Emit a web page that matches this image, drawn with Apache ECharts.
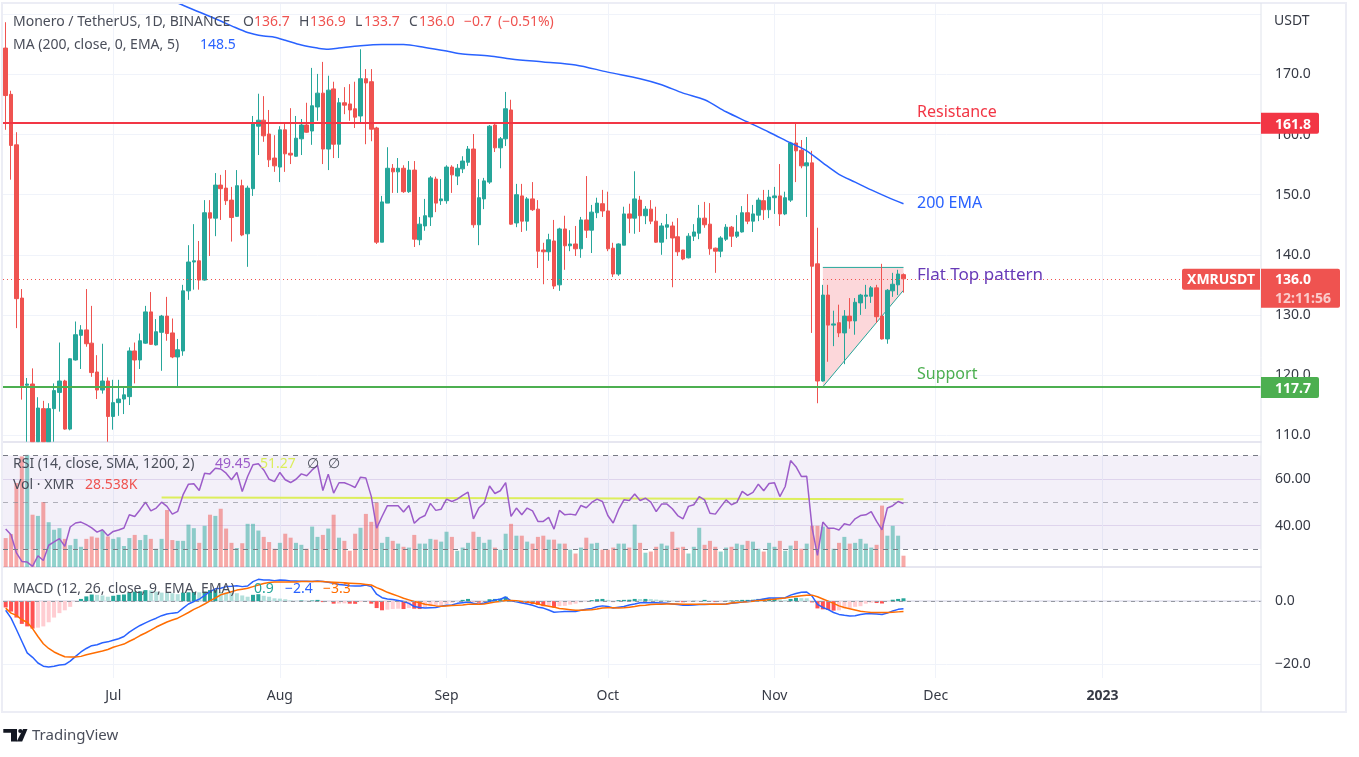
<!DOCTYPE html>
<html><head><meta charset="utf-8">
<script src="https://cdn.jsdelivr.net/npm/echarts@6/dist/echarts.min.js"></script>
<style>html,body{margin:0;padding:0;background:#fff}#c{width:1359px;height:757px}</style>
</head><body><div id="c"></div>
<script>
const opens=[174.4,166.7,158.3,132.8,118.3,118.5,108.9,114.4,108.9,114.4,
117.1,119.0,111.0,122.5,126.6,127.5,125.3,120.5,117.5,119.0,
113.1,115.4,116.0,116.4,124.0,122.5,125.3,130.5,125.0,127.1,
129.8,127.0,123.0,124.0,134.0,138.8,139.0,135.8,147.0,146.1,
151.6,151.1,149.1,146.4,151.5,143.5,151.0,161.4,162.4,160.1,
156.1,154.6,160.8,156.9,156.4,159.3,161.6,160.6,164.6,166.9,
157.6,167.6,158.4,165.3,165.1,164.3,163.1,169.3,168.8,161.1,
142.1,148.6,154.4,153.8,154.4,150.5,154.1,142.5,144.8,146.3,
152.6,149.0,149.0,154.6,153.1,154.3,155.4,157.6,145.0,149.3,
152.1,161.6,157.8,159.3,164.1,145.3,149.8,145.6,149.3,147.6,
140.8,140.5,142.3,135.0,144.3,141.5,141.8,141.0,145.8,144.1,
147.0,148.5,147.3,141.1,136.8,141.6,146.8,146.1,149.1,146.5,
147.6,145.6,142.1,144.6,144.8,143.0,140.8,139.5,143.1,143.6,
146.1,145.1,141.1,140.6,142.6,144.6,143.1,143.8,147.0,145.6,
146.6,149.0,147.5,149.5,149.8,146.8,149.1,158.6,157.4,154.8,
155.3,138.5,119.0,133.3,128.3,128.7,127.0,129.8,129.0,132.0,
133.1,133.1,134.5,129.8,126.0,134.0,135.0,136.7];
const closes=[166.5,158.2,132.7,118.2,118.5,108.9,114.5,108.9,114.4,117.4,
119.0,111.0,122.7,126.7,127.5,125.2,120.4,117.5,119.0,113.1,
115.4,116.0,116.7,124.0,122.5,125.7,130.5,125.1,127.2,129.8,
126.9,123.0,124.2,134.0,138.8,139.0,135.8,147.0,146.1,151.6,
151.0,149.0,146.2,151.5,143.3,151.1,161.8,162.4,159.8,155.8,
154.8,160.8,156.8,156.6,159.4,161.6,160.4,164.8,166.9,157.6,
167.4,158.4,165.3,164.9,164.1,162.9,169.3,168.6,160.9,142.1,
148.8,154.4,153.8,154.4,150.5,154.1,142.6,145.1,146.5,152.8,
148.6,149.3,154.6,153.3,154.4,155.6,157.6,145.0,149.5,152.3,
161.4,157.8,159.3,164.3,145.1,150.0,145.6,149.3,147.5,140.6,
140.5,142.5,134.8,144.3,141.5,141.8,141.0,145.8,144.1,147.1,
148.6,147.3,141.0,136.8,141.8,146.8,146.1,149.3,146.5,147.6,
145.6,142.1,144.8,145.0,142.8,140.5,139.3,143.1,143.8,146.1,
145.0,141.0,140.6,142.8,144.6,143.1,143.8,147.0,145.6,146.8,
149.1,147.5,149.6,149.8,146.8,149.5,158.6,157.3,154.8,155.3,
138.1,119.0,133.3,128.3,128.5,127.0,129.8,129.0,132.1,133.3,
133.3,134.5,129.7,126.0,134.1,135.1,136.8,136.0];
const highs=[178.7,167.3,160.4,134.3,119.5,121.1,116.3,115.7,115.3,118.6,
125.4,119.2,122.8,128.9,128.3,134.3,131.5,123.3,125.2,119.6,
119.2,119.2,118.1,124.6,125.4,126.9,131.5,133.8,129.3,130.0,
133.0,129.4,126.0,135.0,141.6,145.1,142.3,149.1,149.1,153.6,
153.3,154.1,151.3,154.1,152.5,151.5,163.1,166.8,166.4,164.1,
159.9,161.4,161.8,164.4,163.1,162.6,165.3,171.1,170.1,172.1,
169.8,168.8,166.1,167.9,168.4,168.8,174.2,170.9,170.9,161.3,
149.8,157.9,155.1,156.1,154.9,155.6,155.6,146.3,149.3,153.1,
153.0,152.6,154.9,154.9,155.1,156.4,158.1,160.1,152.6,152.8,
161.6,161.8,159.6,167.1,165.8,151.8,151.8,149.6,152.1,149.1,
142.0,143.5,145.8,144.5,146.5,144.1,144.8,146.3,153.1,148.3,
149.5,150.8,150.5,142.0,141.9,148.0,148.5,153.9,149.8,148.1,
149.1,148.0,145.3,146.8,145.5,146.1,140.8,143.6,145.1,148.3,
148.8,148.6,141.2,143.1,145.1,144.8,146.6,148.1,150.1,148.3,
149.5,150.8,150.8,151.3,155.1,150.5,158.8,161.9,159.1,159.6,
157.3,144.5,135.0,135.0,130.7,131.7,130.8,132.8,132.8,133.5,
135.0,134.8,135.0,138.5,134.3,137.0,137.5,136.9];
const lows=[160.8,152.5,127.8,115.9,108.9,108.9,108.9,108.9,108.9,108.9,
113.9,110.9,110.8,122.4,121.0,124.7,119.7,116.0,116.9,108.9,
110.9,113.2,113.5,115.0,118.6,121.0,125.2,125.0,124.9,120.7,
125.7,122.8,117.9,123.2,132.5,134.2,134.2,135.7,139.8,143.1,
145.8,148.3,142.2,146.3,143.1,138.0,149.8,156.6,158.8,154.6,
153.8,152.1,153.8,155.1,156.3,156.6,160.3,158.3,162.3,155.1,
154.1,156.1,156.1,163.4,162.3,161.1,161.9,158.4,158.9,141.8,
142.1,148.6,150.3,150.3,150.3,150.3,141.3,141.6,144.0,144.8,
147.1,148.3,148.5,150.3,151.6,153.6,154.8,144.5,141.6,147.6,
151.8,157.1,154.4,158.1,145.0,144.6,143.8,144.0,147.3,137.8,
135.1,139.0,134.3,134.0,137.5,140.6,139.8,139.5,142.8,140.3,
146.1,146.3,140.6,136.3,136.5,141.6,143.6,143.5,143.8,145.1,
145.1,142.0,140.0,142.6,134.6,139.8,139.1,139.4,142.3,142.6,
144.5,140.0,137.0,139.6,142.3,141.3,142.8,143.7,145.1,143.8,
145.6,145.8,146.1,146.8,144.8,146.6,148.8,152.1,154.4,146.3,
127.0,115.3,118.9,122.2,124.8,126.3,121.8,127.7,126.7,130.0,
131.0,132.0,128.7,125.9,125.2,133.0,133.3,133.7];
const emaBars=[31,32,36,40,42,45,48,50,52,55,58,60,62,66,70,74,78,82,85,90,94,100,106,112,118,122,126,130,134,138,142,146,149,152,155,158,161,164,167];
const emaValues=[182.4,181.9,180.4,178.9,178.1,177.0,176.4,176.2,175.7,174.9,174.4,174.2,174.4,174.8,175.0,175.0,174.5,173.9,173.4,173.1,172.6,172.1,171.6,170.4,169.3,168.3,166.9,165.8,163.8,162.1,160.4,158.6,157.3,155.3,153.4,152.1,150.8,149.6,148.5];
const rsi=[38.5,36.1,28.3,24.7,24.4,22.6,27.1,25.1,31.6,33.0,
34.4,31.1,39.4,41.1,41.5,40.4,39.0,37.2,38.2,35.7,
37.5,38.1,39.0,44.6,43.9,46.8,50.0,46.3,47.5,50.0,
48.2,44.9,46.1,53.2,57.7,57.9,55.0,62.4,62.1,64.5,
64.2,62.4,59.6,62.7,54.6,61.0,66.0,66.4,63.8,59.8,
58.8,62.7,59.6,58.4,59.8,62.1,61.3,63.8,65.7,55.0,
62.0,53.9,58.3,58.3,57.4,56.3,60.7,60.3,52.5,38.9,
43.9,48.5,48.5,48.5,45.8,48.6,41.0,43.2,44.3,49.5,
46.5,47.0,51.3,50.3,51.3,52.9,54.3,42.9,47.5,49.6,
56.9,53.7,54.9,58.4,43.9,47.5,44.6,47.5,46.3,41.8,
41.8,43.5,38.5,46.5,44.6,44.9,44.5,48.6,47.6,49.9,
51.3,50.3,44.3,41.1,46.8,51.0,50.7,53.5,50.7,51.7,
50.0,46.0,49.2,49.2,47.2,44.3,42.9,48.2,48.9,52.4,
51.0,45.3,44.9,48.0,51.0,48.9,49.9,54.6,52.9,54.2,
57.7,54.9,58.0,58.3,52.4,56.7,67.8,65.2,61.0,61.1,
38.9,27.3,41.5,38.9,38.9,38.1,40.8,40.2,42.9,44.3,
44.6,46.0,41.8,38.2,47.5,48.5,50.3,49.45];
const rsiMaBars=[29,100,167];
const rsiMaValues=[52.0,51.7,51.27];
const volumeK=[73,83,212,279,283,132,129,164,113,94,
98,71,55,71,51,71,77,74,92,77,
71,75,53,73,81,68,81,71,46,71,
144,68,66,66,107,98,61,104,132,129,
147,97,61,48,60,109,109,92,76,63,
46,61,84,74,61,56,46,102,76,81,
97,132,74,66,41,84,99,134,114,163,
61,76,66,59,51,49,81,59,59,71,
69,64,89,76,41,49,61,89,76,61,
69,49,44,84,109,79,79,64,59,76,
79,69,69,59,59,44,34,49,74,59,
61,44,44,49,59,59,49,107,61,36,
39,51,59,54,89,49,51,34,51,99,
56,66,51,39,49,51,59,56,66,64,
46,39,61,51,66,41,54,66,46,59,
104,104,102,99,46,61,76,59,61,71,
59,49,56,155,79,104,79,28.538];
const macdLine=[-2.9,-5.4,-9.0,-12.7,-16.4,-17.8,-19.6,-20.6,-20.9,-20.6,
-20.2,-20.1,-19.0,-17.5,-16.1,-15.0,-14.1,-13.8,-13.2,-12.9,
-12.4,-11.9,-11.2,-9.8,-8.7,-7.7,-6.9,-6.1,-5.4,-4.6,
-4.1,-3.8,-3.6,-2.2,-0.9,-0.1,0.6,1.8,3.0,3.9,
4.1,4.6,4.7,4.9,4.6,4.8,6.2,6.9,6.7,6.7,
6.5,6.7,6.6,6.4,6.4,6.3,6.3,6.2,6.4,6.2,
6.0,5.7,5.3,5.1,4.9,4.8,4.8,5.1,4.6,2.2,
1.1,0.7,0.5,0.2,-0.1,-0.7,-1.7,-2.0,-2.2,-2.1,
-2.0,-1.6,-1.3,-1.2,-0.7,-0.5,-0.3,-0.7,-1.0,-0.6,
-0.1,0.4,0.6,1.3,0.1,-0.2,-0.6,-0.9,-1.3,-1.9,
-2.2,-2.8,-3.5,-3.4,-3.3,-3.3,-3.3,-2.9,-2.6,-2.3,
-1.8,-1.5,-1.7,-2.2,-1.9,-1.7,-1.2,-0.9,-0.5,-0.5,
-0.5,-0.5,-0.6,-0.7,-0.9,-1.1,-1.3,-1.3,-1.2,-1.1,
-1.1,-1.0,-1.0,-1.0,-0.9,-0.7,-0.5,-0.3,-0.1,0.1,
0.4,0.7,1.0,1.0,1.0,1.1,1.9,2.4,2.8,2.9,
1.6,-1.0,-2.0,-2.7,-3.6,-4.2,-4.5,-4.7,-4.6,-4.2,
-4.0,-4.0,-4.1,-4.2,-3.8,-3.1,-2.6,-2.4];
const signalLine=[-2.2,-3.8,-4.5,-5.9,-6.7,-8.7,-11.2,-13.5,-15.0,-16.1,
-16.9,-17.6,-17.7,-17.7,-17.5,-17.0,-16.6,-16.2,-15.8,-15.3,
-14.6,-14.1,-13.6,-12.7,-11.9,-10.9,-10.1,-9.2,-8.2,-7.4,
-6.6,-6.0,-5.4,-4.5,-3.6,-2.6,-1.8,-0.9,0.1,1.0,
2.0,2.5,3.0,3.5,3.8,4.1,4.6,5.1,5.6,5.9,
6.1,6.1,6.1,6.1,6.1,6.2,6.2,6.2,6.2,6.2,
6.1,6.0,5.9,5.8,5.7,5.6,5.5,5.3,5.1,4.3,
3.6,2.8,2.2,1.6,0.9,0.4,-0.1,-0.5,-1.0,-1.2,
-1.5,-1.6,-1.5,-1.4,-1.3,-1.2,-1.0,-1.0,-1.0,-0.9,
-0.6,-0.3,-0.1,0.2,0.2,0.1,-0.1,-0.3,-0.5,-0.9,
-1.3,-1.6,-1.9,-2.3,-2.5,-2.7,-2.9,-2.9,-2.8,-2.7,
-2.5,-2.2,-2.1,-2.1,-2.2,-2.1,-1.9,-1.7,-1.4,-1.3,
-1.1,-1.0,-1.0,-0.9,-0.9,-0.9,-1.0,-1.0,-1.0,-1.0,
-1.0,-1.0,-1.0,-1.0,-0.9,-0.6,-0.4,-0.3,-0.2,0.0,
0.2,0.3,0.5,0.6,0.8,1.0,1.3,1.5,1.7,1.9,
1.9,1.4,0.7,0.0,-0.7,-1.5,-2.0,-2.4,-2.8,-3.2,
-3.4,-3.6,-3.6,-3.6,-3.6,-3.5,-3.4,-3.3];
const macdHist=[-2.0,-3.3,-5.2,-7.2,-8.0,-8.7,-8.4,-8.0,-6.7,-5.2,
-3.8,-2.9,-1.8,-0.1,0.7,1.5,2.1,2.0,1.8,1.4,
1.7,2.0,2.1,2.8,3.0,3.1,3.5,3.4,3.0,2.7,
2.6,2.5,2.2,2.7,2.8,2.9,2.8,3.0,3.5,3.6,
2.9,2.7,2.6,2.5,1.8,1.4,2.0,2.2,1.7,1.4,
0.9,0.8,0.6,0.2,0.1,0.2,0.1,0.2,0.4,-0.3,
-0.1,-0.8,-0.75,-0.7,-0.8,-0.85,-0.3,-0.2,-0.8,-2.2,
-2.9,-2.7,-2.5,-2.4,-2.5,-2.2,-2.4,-2.5,-2.0,-1.6,
-1.4,-1.2,-0.9,-0.5,0.0,0.4,0.7,-0.1,-0.5,-0.3,
0.6,0.7,0.8,1.4,0.4,-0.3,-0.5,-0.6,-0.9,-1.2,
-1.6,-1.5,-2.0,-1.6,-1.5,-1.1,-0.8,-0.4,-0.1,0.3,
0.6,0.7,0.4,-0.3,0.3,0.4,0.45,0.7,0.65,0.7,
0.65,0.5,0.4,0.3,0.1,-0.3,-0.35,-0.1,0.1,0.0,
0.4,0.0,-0.3,-0.1,0.1,0.2,0.25,0.4,0.4,0.45,
0.7,0.75,0.8,0.85,0.5,0.3,0.7,1.05,0.95,0.9,
-0.4,-2.3,-2.6,-2.8,-3.0,-2.9,-2.3,-2.2,-1.8,-1.6,
-0.8,-0.5,-0.6,-0.75,0.0,0.45,0.7,0.9];
const priceTicks=[110,120,130,140,150,160,170,180];
const priceLabels=[110,120,130,140,150,160,170];
const rsiTicks=[40,60];
const macdTicks=[-20,0];
const monthLabels={'2022-07-01':'Jul','2022-08-01':'Aug','2022-09-01':'Sep','2022-10-01':'Oct','2022-11-01':'Nov','2022-12-01':'Dec','2023-01-01':'2023'};
const levelPrices=[161.9,118.0];
const levelTags=['161.8','117.7'];
const lastPrice=136.0;
const patternBars=[152,167,167,152];
const patternPrices=[137.9,137.9,134.1,118.05];

const categories=[];
for(let d=new Date(Date.UTC(2022,5,11)),n=0;n<234;n++,d=new Date(d.getTime()+864e5))categories.push(d.toISOString().slice(0,10));

const UP='#26a69a',DOWN='#ef5350',FONT='"Noto Sans",sans-serif',TXT='#363a45';
const GRID='#f0f3fa',SEP='#e6e6f0';
const isUp=i=>closes[i]>=opens[i];
const xBase=(g,show)=>({type:'category',gridIndex:g,data:categories,boundaryGap:true,
 axisLine:{show:true,lineStyle:{color:SEP,width:2}},axisTick:{show:false},
 axisLabel:{show:show,interval:(i,v)=>v in monthLabels,formatter:v=>v==='2023-01-01'?'{b|2023}':(monthLabels[v]||''),
   color:TXT,fontFamily:FONT,fontSize:14,margin:11,rich:{b:{fontWeight:'bold',fontSize:14,color:TXT,fontFamily:FONT}}},
 splitLine:{show:true,alignWithLabel:true,interval:(i,v)=>v in monthLabels,lineStyle:{color:GRID,width:1}}});
const yBase=(g,min,max,ticks,labels,fmt,split)=>({type:'value',gridIndex:g,position:'right',min,max,scale:true,
 axisLine:{show:false},axisTick:{show:false,customValues:ticks},
 axisLabel:{customValues:labels,formatter:fmt,color:TXT,fontFamily:FONT,fontSize:14,margin:14,hideOverlap:false,padding:[2,0,0,0]},
 splitLine:{show:true,lineStyle:{color:split||GRID,width:1}}});

const option={animation:false,backgroundColor:'#fff',
 grid:[{left:3,right:98,top:3,height:439},{left:3,right:98,top:443,height:124},{left:3,right:98,top:568,height:110}],
 xAxis:[xBase(0,false),xBase(1,false),xBase(2,true)],
 yAxis:[
  yBase(0,108.85,181.9,priceTicks,priceLabels,v=>(+v).toFixed(1)),
  yBase(1,22.3,75.3,rsiTicks,rsiTicks,v=>(+v).toFixed(2),'#e8e1f2'),
  {type:'value',gridIndex:1,min:0,max:313,show:false},
  yBase(2,-24.35,10.5,macdTicks,macdTicks,v=>String((+v).toFixed(1)).replace('-','\u2212'))
 ],
 series:[
  {type:'custom',xAxisIndex:0,yAxisIndex:0,z:1,silent:true,data:[0],
   renderItem:(p,api)=>{const pts=patternBars.map((b,k)=>api.coord([b,patternPrices[k]]));
    return {type:'group',children:[
     {type:'polygon',shape:{points:pts},style:{fill:'rgba(242,54,69,0.2)'}},
     {type:'polyline',shape:{points:[pts[0],pts[1]]},style:{stroke:UP,lineWidth:1,fill:null}},
     {type:'polyline',shape:{points:[pts[2],pts[3]]},style:{stroke:UP,lineWidth:1,fill:null}}]};}},
  {type:'candlestick',name:'XMRUSDT',xAxisIndex:0,yAxisIndex:0,z:2,barWidth:4,clip:true,
   data:opens.map((o,i)=>[o,closes[i],lows[i],highs[i]]),
   itemStyle:{color:UP,color0:DOWN,borderColor:UP,borderColor0:DOWN,borderWidth:1},
   markLine:{silent:true,symbol:'none',animation:false,label:{show:false},data:[
    {yAxis:levelPrices[0],lineStyle:{color:'#f23645',width:2,type:'solid'}},
    {yAxis:levelPrices[1],lineStyle:{color:'#4caf50',width:2,type:'solid'}},
    {yAxis:lastPrice,lineStyle:{color:DOWN,width:1,type:[1,3]}}]}},
  {type:'line',name:'MA',xAxisIndex:0,yAxisIndex:0,z:3,showSymbol:false,smooth:0.3,
   data:emaBars.map((b,k)=>[b,emaValues[k]]),lineStyle:{color:'#2962ff',width:1.5},clip:true},
  {type:'bar',name:'Vol',xAxisIndex:1,yAxisIndex:2,barWidth:4,z:1,
   data:volumeK,itemStyle:{color:p=>isUp(p.dataIndex)?'rgba(38,166,154,0.5)':'rgba(239,83,80,0.5)'}},
  {type:'line',name:'RSI',xAxisIndex:1,yAxisIndex:1,z:3,showSymbol:false,data:rsi,lineStyle:{color:'#9c5cc9',width:1.5},
   markArea:{silent:true,itemStyle:{color:'rgba(126,87,194,0.09)'},data:[[{yAxis:70},{yAxis:30}]]},
   markLine:{silent:true,symbol:'none',label:{show:false},data:[
    {yAxis:70,lineStyle:{color:'#787b86',type:[5,5],width:1}},
    {yAxis:50,lineStyle:{color:'rgba(120,123,134,0.55)',type:[5,5],width:1}},
    {yAxis:30,lineStyle:{color:'#787b86',type:[5,5],width:1}}]}},
  {type:'line',name:'RSI MA',xAxisIndex:1,yAxisIndex:1,z:2,showSymbol:false,
   data:rsiMaBars.map((b,k)=>[b,rsiMaValues[k]]),lineStyle:{color:'#dcee5c',width:2}},
  {type:'bar',name:'Histogram',xAxisIndex:2,yAxisIndex:3,barWidth:4,z:1,data:macdHist,
   itemStyle:{color:p=>{const i=p.dataIndex,v=macdHist[i],pv=i?macdHist[i-1]:0;
     return v>=0?(v>=pv?'#26a69a':'#b2dfdb'):(v<pv?'#ff5252':'#ffcdd2');}},
   markLine:{silent:true,symbol:'none',label:{show:false},data:[{yAxis:0,lineStyle:{color:'#9598a1',type:[4,4],width:1}}]}},
  {type:'line',name:'MACD',xAxisIndex:2,yAxisIndex:3,z:3,showSymbol:false,data:macdLine,lineStyle:{color:'#2962ff',width:1.5}},
  {type:'line',name:'Signal',xAxisIndex:2,yAxisIndex:3,z:3,showSymbol:false,data:signalLine,lineStyle:{color:'#ff6d00',width:1.5}}
 ]};

const chart=echarts.init(document.getElementById('c'),null,{renderer:'canvas'});
chart.setOption(option);

const py=v=>chart.convertToPixel({yAxisIndex:0},v);
const T=(x,y,text,color,o={})=>({type:'text',z:100,silent:true,x,y:y+1,style:{text,fill:color,
  font:`${o.w||'normal'} ${o.s||14}px ${FONT}`,align:o.a||'left',verticalAlign:'middle'}});
const R=(x,y,w,h,fill,r)=>({type:'rect',z:99,silent:true,shape:{x,y,width:w,height:h,r:r||0},style:{fill}});
const L='#4a4e5a',lastY=py(lastPrice);
const g=[
 {type:'rect',z:98,silent:true,shape:{x:2,y:3,width:1344,height:709},style:{fill:null,stroke:'#ecedf5',lineWidth:2}},
 {type:'line',z:98,silent:true,shape:{x1:1261,y1:3,x2:1261,y2:712},style:{stroke:'#e0e3eb',lineWidth:1}},
 T(13,21,'Monero / TetherUS, 1D, BINANCE',L),
 T(243,21,'O',L),T(254,21,'136.7',DOWN),T(299,21,'H',L),T(310,21,'136.9',DOWN),T(355,21,'L',L),T(364,21,'133.7',DOWN),
 T(409,21,'C',L),T(419,21,'136.0',DOWN),T(464,21,'\u22120.7',DOWN),T(498,21,'(\u22120.51%)',DOWN),
 T(13,44,'MA (200, close, 0, EMA, 5)',L),T(200,44,'148.5','#2962ff'),
 T(13,463,'RSI (14, close, SMA, 1200, 2)',L),T(215,463,'49.45','#9c5cc9'),T(260,463,'51.27','#dcee5c'),
 T(307,463,'\u2205',L),T(328,463,'\u2205',L),
 T(13,484,'Vol \u00b7 XMR',L),T(85,484,'28.538K',DOWN),
 T(13,588,'MACD (12, 26, close, 9, EMA, EMA)',L),T(254,588,'0.9',UP),T(285,588,'\u22122.4','#2962ff'),T(323,588,'\u22123.3','#ff6d00'),
 T(1274,20,'USDT',TXT),
 T(917,111,'Resistance','#f23645',{s:16}),T(917,202,'200 EMA','#2962ff',{s:16}),
 T(917,274,'Flat Top pattern','#673ab7',{s:17}),T(917,373,'Support','#4caf50',{s:16}),
 R(1261,py(levelPrices[0])-10.5,58,21,'#f23645',[0,2,2,0]),T(1275,py(levelPrices[0])+0.5,levelTags[0],'#fff',{w:'bold'}),
 R(1261,py(levelPrices[1])-10,58,21,'#4caf50',[0,2,2,0]),T(1275,py(levelPrices[1])+1,levelTags[1],'#fff',{w:'bold'}),
 R(1182,lastY-10,78,21,DOWN,[2,0,0,2]),T(1221,lastY+0.5,'XMRUSDT','#fff',{a:'center',w:'bold'}),
 R(1261,lastY-10,79,39,DOWN,[0,2,2,0]),T(1275,lastY+0.5,lastPrice.toFixed(1),'#fff',{w:'bold'}),
 T(1275,lastY+19,'12:11:56','rgba(255,255,255,0.7)',{w:'bold'}),
 {type:'polygon',z:100,silent:true,shape:{points:[[3.3,729],[17,729],[17,741.5],[11,741.5],[11,732.8],[3.3,732.8]]},style:{fill:'#131722'}},
 {type:'circle',z:100,silent:true,shape:{cx:20.3,cy:731,r:2.1},style:{fill:'#131722'}},
 {type:'polygon',z:100,silent:true,shape:{points:[[23,729],[27.5,729],[22.2,741.5],[16.7,741.5]]},style:{fill:'#131722'}},
 T(32,734.5,'TradingView','#4a4e5a',{s:15})
];
chart.setOption({graphic:g});
</script></body></html>
